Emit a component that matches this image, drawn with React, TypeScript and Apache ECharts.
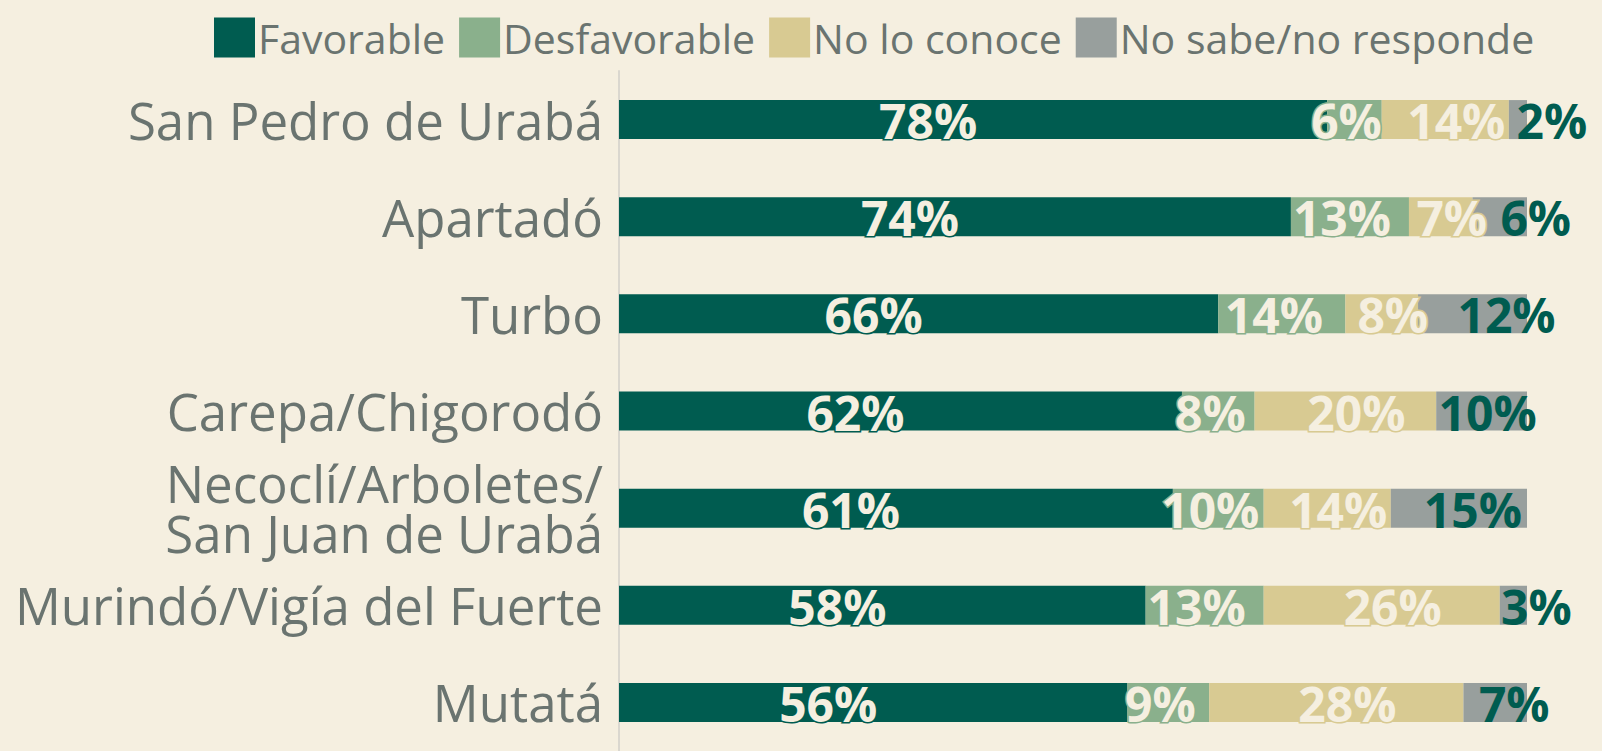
import React, { useEffect, useRef } from "react";
import * as echarts from "echarts";

const categories = [
  "San Pedro de Urabá",
  "Apartadó",
  "Turbo",
  "Carepa/Chigorodó",
  "Necoclí/Arboletes/\nSan Juan de Urabá",
  "Murindó/Vigía del Fuerte",
  "Mutatá",
];
const seriesNames = ["Favorable", "Desfavorable", "No lo conoce", "No sabe/no responde"];
const favorable = [78, 74, 66, 62, 61, 58, 56];
const desfavorable = [6, 13, 14, 8, 10, 13, 9];
const noLoConoce = [14, 7, 8, 20, 14, 26, 28];
const noSabe = [2, 6, 12, 10, 15, 3, 7];

const colors = ["#005C50", "#8AB08C", "#D8CA92", "#989F9D"];
const BG = "#F5EFE0";
const TEXT = "#6A7470";
const FONT = "'Open Sans'";
const seriesOffsets = [-45, -8, 11];
const lastLabelShift = [34, 36, 34, 6, 14, 23, 19];

export default function App() {
  const ref = useRef<HTMLDivElement>(null);
  useEffect(() => {
    if (!ref.current) return;
    const chart = echarts.init(ref.current, undefined, { renderer: "svg" });
    const values = [favorable, desfavorable, noLoConoce, noSabe];
    const series = values.map((vals, i) => {
      const isLast = i === values.length - 1;
      return {
        name: seriesNames[i],
        type: "bar",
        stack: "total",
        barWidth: 39,
        itemStyle: { color: colors[i] },
        data: vals.map((v, j) => ({
          value: v,
          label: {
            offset: [isLast ? lastLabelShift[j] : seriesOffsets[i], 1],
          },
        })),
        label: {
          show: true,
          position: "inside",
          formatter: "{c}%",
          fontFamily: FONT,
          fontWeight: "bold",
          fontSize: 48,
          color: isLast ? colors[0] : BG,
          textBorderColor: isLast ? "transparent" : colors[i],
          textBorderWidth: isLast ? 0 : 3,
        },
      };
    });
    chart.setOption({
      animation: false,
      backgroundColor: BG,
      legend: {
        left: 209,
        top: 12,
        itemWidth: 41,
        itemHeight: 40,
        itemGap: 14,
        icon: "rect",
        selectedMode: false,
        textStyle: { fontFamily: FONT, fontSize: 41, color: TEXT, padding: [0, 0, 0, -2] },
        data: seriesNames,
      },
      grid: { left: 619, top: 71, width: 908, height: 690, containLabel: false },
      xAxis: { type: "value", min: 0, max: 100, show: false },
      yAxis: {
        type: "category",
        inverse: true,
        data: categories,
        axisLine: { show: true, lineStyle: { color: "#DAD7CF", width: 2 } },
        axisTick: { show: false },
        axisLabel: {
          margin: 16,
          fontFamily: FONT,
          fontSize: 51,
          lineHeight: 50,
          color: TEXT,
          align: "right",
        },
      },
      series,
    });
    return () => chart.dispose();
  }, []);
  return (
    <div
      ref={ref}
      style={{ position: "fixed", left: 0, top: 0, width: 1602, height: 751, background: BG }}
    />
  );
}
